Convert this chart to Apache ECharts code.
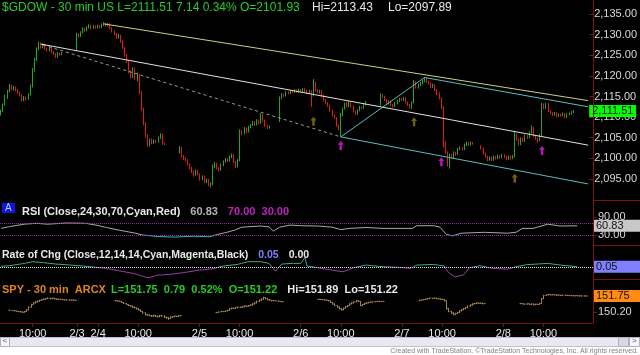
<!DOCTYPE html>
<html>
<head>
<meta charset="utf-8">
<script src="https://cdn.jsdelivr.net/npm/echarts@6/dist/echarts.min.js"></script>
<style>
html, body { margin: 0; padding: 0; background: #000; }
#chart { width: 640px; height: 355px; }
</style>
</head>
<body>
<div id="chart"></div>
<script>
var FONT = 'Arial, "Liberation Sans", sans-serif';

// 30 min bars, one category per bar
var N = 281;
var tickIdx = [15, 36, 46, 65, 94, 113, 142, 161, 190, 209, 238, 257];
var tickText = ['10:00', '2/3', '2/4', '10:00', '2/5', '10:00', '2/6', '10:00', '2/7', '10:00', '2/8', '10:00'];

// $GDOW bars per day: [open, close, low, high], null = no bar
var dayStart = [0, 36, 46, 94, 142, 190, 238];
var feb1 = [
  [2110.8,2111.5,2110.4,2111.8],[2111.5,2113.0,2111.2,2113.3],[2113.0,2115.0,2112.8,2115.4],[2115.0,2116.3,2114.4,2116.6],
  [2116.3,2117.5,2116.0,2118.0],[2117.5,2116.8,2116.5,2117.8],[2116.8,2117.2,2116.4,2117.6],[2117.2,2116.5,2116.2,2117.4],
  [2116.5,2116.0,2115.7,2116.8],[2116.0,2115.3,2115.0,2116.2],[2115.3,2114.2,2113.8,2115.5],[2114.2,2114.8,2113.9,2115.1],
  [2114.8,2114.5,2114.0,2115.0],[2114.5,2115.5,2114.2,2115.8],[2115.5,2117.5,2115.2,2117.9],[2117.5,2121.5,2117.2,2121.9],
  [2121.5,2124.0,2121.0,2124.4],[2124.0,2126.5,2123.6,2126.9],[2126.5,2127.8,2126.2,2128.3],[2127.8,2127.0,2126.6,2128.1],
  [2127.0,2127.6,2126.7,2127.9],[2127.6,2126.6,2126.3,2127.8],[2126.6,2126.2,2125.9,2126.9],[2126.2,2126.9,2125.9,2127.2],
  [2126.9,2125.8,2125.5,2127.0],[2125.8,2125.3,2125.0,2126.0],[2125.3,2124.6,2124.3,2125.5],[2124.6,2125.4,2124.4,2125.7],
  [2125.4,2125.2,2124.9,2125.6],[2125.2,2125.6,2125.0,2125.8],
  null, null, null, null, null, null
];
var feb3 = [
  [2126.3,2130.0,2126.0,2130.4],[2130.0,2129.6,2129.2,2130.3],[2129.6,2130.5,2129.4,2130.8],[2130.5,2131.5,2130.3,2131.8],
  [2131.5,2131.0,2130.7,2131.7],[2131.0,2131.8,2130.8,2132.0],[2131.8,2132.2,2131.5,2132.5],[2132.2,2131.6,2131.3,2132.4],
  [2131.6,2132.0,2131.4,2132.3],[2132.0,2131.7,2131.4,2132.2]
];
var feb4 = [
  [2131.7,2132.1,2131.5,2132.4],[2132.1,2131.8,2131.5,2132.3],[2131.8,2132.4,2131.6,2132.7],[2132.4,2132.6,2132.1,2133.0],
  [2132.6,2132.2,2131.9,2132.9],[2132.2,2132.5,2132.0,2132.8],[2132.5,2131.6,2131.3,2132.7],[2131.6,2130.8,2130.5,2131.8],
  [2130.8,2130.2,2129.8,2131.0],[2130.2,2129.3,2129.0,2130.4],[2129.3,2129.8,2129.0,2130.1],[2129.8,2128.4,2128.0,2130.0],
  [2128.4,2126.8,2126.5,2128.6],[2126.8,2125.0,2124.6,2127.0],[2125.0,2123.5,2123.1,2125.3],[2123.5,2121.0,2120.6,2123.8],
  [2121.0,2119.8,2119.4,2121.3],[2119.8,2121.8,2119.5,2122.1],[2121.8,2119.5,2119.0,2122.0],[2119.5,2120.3,2118.7,2120.8],
  [2120.3,2116.0,2115.6,2120.5],[2116.0,2112.0,2111.5,2116.3],[2112.0,2108.5,2108.0,2112.3],[2108.5,2105.5,2105.0,2108.8],
  [2105.5,2103.2,2102.8,2105.8],[2103.2,2104.5,2102.9,2104.8],[2104.5,2103.8,2103.4,2104.8],[2103.8,2104.3,2103.5,2104.6],
  [2104.3,2104.0,2103.7,2104.5],[2104.0,2105.0,2103.8,2105.3],[2105.0,2105.8,2104.7,2106.1],[2105.8,2103.6,2103.3,2106.0],
  [2103.6,2103.4,2103.2,2103.8],[2103.4,2103.4,2103.4,2103.4],
  null, null, null, null, null,
  [2101.5,2102.6,2101.2,2103.0],[2102.6,2100.5,2100.2,2102.8],[2100.5,2100.0,2099.6,2100.8],[2100.0,2099.5,2099.2,2100.3],
  [2099.5,2098.5,2098.2,2099.8],[2098.5,2097.6,2097.3,2098.8],[2097.6,2096.8,2096.4,2097.9],[2096.8,2096.0,2095.6,2097.0],
  [2096.0,2097.0,2095.8,2097.3]
];
var feb5 = [
  [2097.0,2096.2,2095.9,2097.2],[2096.2,2095.0,2094.6,2096.4],[2095.0,2095.6,2094.7,2095.9],[2095.6,2094.3,2094.0,2095.8],
  [2094.3,2094.8,2094.0,2095.1],[2094.8,2093.6,2093.2,2095.0],[2093.6,2093.9,2093.0,2094.2],[2093.9,2098.0,2093.5,2098.5],
  [2098.0,2098.8,2097.7,2099.1],[2098.8,2097.6,2097.3,2099.0],[2097.6,2097.2,2096.8,2097.9],[2097.2,2098.4,2097.0,2098.7],
  [2098.4,2099.2,2098.1,2099.5],[2099.2,2099.8,2099.0,2100.1],[2099.8,2099.4,2099.1,2100.1],[2099.4,2100.4,2099.2,2100.7],
  [2100.4,2100.8,2100.1,2101.2],[2100.8,2099.2,2098.9,2101.0],[2099.2,2098.0,2097.6,2099.4],[2098.0,2099.5,2097.8,2099.8],
  [2099.5,2106.5,2099.3,2107.0],[2106.5,2106.0,2105.6,2106.9],[2106.0,2107.3,2105.8,2107.6],[2107.3,2106.5,2106.1,2107.5],
  [2106.5,2107.6,2106.3,2107.9],[2107.6,2108.0,2107.3,2108.3],[2108.0,2108.8,2107.8,2109.1],[2108.8,2108.2,2107.9,2109.0],
  [2108.2,2109.2,2108.0,2109.5],[2109.2,2108.6,2108.3,2109.4],[2108.6,2110.5,2108.4,2111.0],[2110.5,2109.2,2108.9,2110.7],
  [2109.2,2108.0,2107.6,2109.4],[2108.0,2107.5,2107.1,2108.2],[2107.5,2107.6,2107.2,2107.9],[2107.6,2107.6,2107.6,2107.6],
  null, null, null,
  [2109.0,2114.6,2108.8,2115.0],[2114.6,2115.5,2114.3,2115.8],[2115.5,2115.2,2114.9,2115.7],[2115.2,2116.0,2115.0,2116.3],
  [2116.0,2115.8,2115.5,2116.2],[2115.8,2116.3,2115.6,2116.6],[2116.3,2116.1,2115.8,2116.5],[2116.1,2116.5,2115.9,2116.8],
  [2116.5,2116.2,2115.9,2116.7]
];
var feb6 = [
  [2116.2,2116.6,2115.9,2116.9],[2116.6,2116.2,2115.9,2116.8],[2116.2,2116.8,2116.0,2117.1],[2116.8,2116.4,2116.1,2117.0],
  [2116.4,2115.9,2115.6,2116.6],[2115.9,2116.3,2115.6,2116.6],[2116.3,2115.2,2112.5,2116.5],[2115.2,2118.4,2115.0,2119.2],
  [2118.4,2116.5,2116.2,2118.6],[2116.5,2116.0,2115.7,2116.8],[2116.0,2116.3,2115.7,2116.6],[2116.3,2115.2,2114.9,2116.5],
  [2115.2,2114.2,2113.9,2115.4],[2114.2,2113.4,2113.1,2114.4],[2113.4,2112.8,2112.5,2113.6],[2112.8,2111.6,2111.3,2113.0],
  [2111.6,2110.4,2110.1,2111.8],[2110.4,2109.8,2109.5,2110.6],[2109.8,2108.0,2107.7,2110.0],[2108.0,2107.3,2106.8,2108.2],
  [2107.3,2110.5,2105.2,2111.0],[2110.5,2112.0,2110.2,2112.3],[2112.0,2113.2,2111.8,2113.5],[2113.2,2112.6,2112.3,2113.6],
  [2112.6,2113.6,2112.4,2113.9],[2113.6,2112.6,2112.3,2113.8],[2112.6,2111.4,2111.1,2112.8],[2111.4,2110.8,2110.5,2111.6],
  [2110.8,2111.6,2110.6,2111.9],[2111.6,2112.4,2111.4,2112.7],[2112.4,2112.2,2111.9,2112.6],[2112.2,2113.0,2112.0,2113.3],
  [2113.0,2113.6,2112.8,2113.9],[2113.6,2113.6,2113.6,2113.6],
  null, null, null, null, null,
  [2113.0,2115.4,2112.8,2115.8],[2115.4,2115.0,2114.7,2115.7],[2115.0,2114.2,2113.9,2115.2],[2114.2,2113.4,2113.1,2114.4],
  [2113.4,2113.8,2113.1,2114.1],[2113.8,2113.0,2112.7,2114.0],[2113.0,2112.6,2112.3,2113.2],[2112.6,2113.4,2112.4,2113.7],
  [2113.4,2113.9,2113.1,2114.2]
];
var feb7 = [
  [2113.9,2114.4,2113.6,2114.7],[2114.4,2114.2,2113.9,2114.6],[2114.2,2114.6,2113.9,2114.9],[2114.6,2113.6,2113.3,2114.8],
  [2113.6,2113.0,2112.7,2113.8],[2113.0,2112.5,2112.1,2113.2],[2112.5,2113.5,2112.0,2113.8],[2113.5,2118.5,2113.3,2119.0],
  [2118.5,2117.2,2116.9,2118.7],[2117.2,2117.8,2116.9,2118.1],[2117.8,2118.2,2117.5,2118.5],[2118.2,2118.8,2117.9,2119.1],
  [2118.8,2119.3,2118.5,2119.7],[2119.3,2118.6,2118.3,2119.5],[2118.6,2118.2,2117.9,2118.8],[2118.2,2117.4,2117.1,2118.4],
  [2117.4,2117.8,2117.1,2118.1],[2117.8,2116.6,2116.3,2118.0],[2116.6,2115.6,2115.3,2116.8],[2115.6,2114.6,2114.3,2116.0],
  [2114.6,2112.4,2112.0,2114.8],[2112.4,2103.0,2102.6,2112.6],[2103.0,2101.5,2101.1,2104.2],[2101.5,2099.4,2098.0,2101.7],
  [2099.4,2100.8,2097.5,2101.1],[2100.8,2100.2,2099.8,2101.0],[2100.2,2101.4,2100.0,2101.7],[2101.4,2101.0,2100.6,2101.6],
  [2101.0,2102.2,2100.8,2102.5],[2102.2,2102.6,2101.9,2102.9],[2102.6,2102.2,2101.9,2102.8],[2102.2,2103.3,2102.0,2103.6],
  [2103.3,2103.8,2103.0,2104.1],[2103.8,2103.3,2103.0,2104.0],[2103.3,2103.8,2103.1,2104.1],[2103.8,2103.6,2103.3,2104.0],
  [2104.0,2104.0,2104.0,2104.0],
  null, null,
  [2103.0,2102.4,2102.1,2103.2],[2102.4,2101.2,2100.9,2102.6],[2101.2,2100.4,2100.1,2101.4],[2100.4,2099.6,2099.3,2100.6],
  [2099.6,2100.2,2099.4,2100.5],[2100.2,2099.6,2099.3,2100.4],[2099.6,2100.4,2099.4,2100.7],[2100.4,2100.0,2099.7,2100.6],
  [2100.0,2100.6,2099.8,2100.9]
];
var feb8 = [
  [2100.6,2100.2,2099.9,2100.8],[2100.2,2100.8,2100.0,2101.1],[2100.8,2100.4,2100.1,2101.0],[2100.4,2099.8,2099.5,2100.6],
  [2099.8,2100.4,2099.6,2100.7],[2100.4,2100.0,2099.7,2100.6],[2100.0,2100.5,2099.8,2100.8],[2100.5,2105.8,2100.2,2106.5],
  [2105.8,2104.6,2104.3,2106.0],[2104.6,2103.4,2103.1,2104.8],[2103.4,2104.8,2103.2,2105.1],[2104.8,2104.2,2103.9,2105.0],
  [2104.2,2105.4,2104.0,2105.7],[2105.4,2105.0,2104.7,2105.6],[2105.0,2106.2,2104.8,2106.5],[2106.2,2107.4,2106.0,2108.0],
  [2107.4,2105.5,2105.2,2107.6],[2105.5,2104.8,2104.5,2105.7],[2104.8,2104.4,2103.8,2105.0],[2104.4,2105.6,2104.2,2105.9],
  [2105.6,2113.0,2105.4,2113.43],[2113.0,2112.2,2111.9,2113.3],[2112.2,2113.2,2112.0,2113.4],[2113.2,2111.5,2111.2,2113.4],
  [2111.5,2111.0,2110.7,2111.7],[2111.0,2110.6,2110.3,2111.2],[2110.6,2111.0,2110.4,2111.3],[2111.0,2110.2,2109.9,2111.2],
  [2110.2,2110.6,2110.0,2110.9],[2110.6,2110.4,2110.1,2110.8],[2110.4,2110.8,2110.2,2111.1],[2110.8,2110.0,2109.7,2111.0],
  [2110.0,2110.6,2109.8,2110.9],[2110.6,2110.8,2110.4,2111.1],[2110.8,2111.2,2110.6,2111.5],[2111.2,2111.51,2111.0,2111.7]
];

// drawn trend lines [[bar, price], [bar, price]]
var lineYellow = [[49, 2132.6], [280, 2114.0]];
var lineWhite = [[19, 2127.7], [280, 2103.2]];
var lineDashed = [[20, 2127.5], [162, 2105.2]];
var lineCyanUp = [[162, 2105.2], [202, 2119.6]];
var lineCyanTop = [[202, 2119.6], [280, 2112.5]];
var lineCyanLow = [[162, 2105.2], [280, 2093.8]];

// signal arrows
var oliveIdx = [149, 197, 245];
var olivePx = [2109.0, 2108.9, 2095.2];
var magIdx = [162, 210, 258];
var magPx = [2103.1, 2099.2, 2101.9];

// RSI(24) samples [bar, value]
var rsiPts = [[0,52],[4,58],[11,66],[17,69],[22,66],[31,70],[40,69],[45,63],[50,55],[56,46],[63,37],[67,30],
  [74,25],[82,23],[91,26],[99,24],[102,31],[107,39],[111,47],[114,56],[123,60],[127,57],[129,43],[132,56],
  [137,63],[142,61],[150,60],[157,56],[161,48],[165,52],[173,55],[181,52],[189,52],[195,52],[197,61],[205,61],
  [208,56],[211,32],[214,27],[218,36],[229,39],[240,36],[244,39],[247,52],[252,52],[259,66],[265,60],[273,60.83]];

// Rate of change samples [bar, value]
var rocPts = [[0,0.1],[4,0.17],[11,0.45],[15,0.67],[20,0.55],[26,0.38],[33,0.25],[39,0.13],[44,0],[50,-0.17],
  [56,-0.46],[63,-0.8],[67,-1.13],[70,-1.33],[74,-1.0],[80,-0.9],[86,-0.7],[94,-0.38],[101,-0.17],[105,0.13],
  [112,0.33],[117,0.67],[123,0.67],[127,0.46],[130,-0.5],[133,0.38],[138,0.46],[142,0.46],[144,1.17],[145,0.13],
  [150,-0.08],[157,-0.38],[162,-0.58],[167,-0.08],[173,0.25],[181,0.04],[189,-0.04],[194,-0.17],[197,0.25],
  [205,0.33],[210,0.13],[212,-0.67],[215,-1.2],[219,-1.0],[222,-0.08],[227,0.17],[233,-0.17],[240,-0.25],
  [244,0.04],[249,0.3],[259,0.46],[265,0.25],[273,0.05]];

// SPY sessions [open, close, low, high]
var spyStart = [4, 54, 102, 150, 198, 246];
var spy1 = [[150.42,150.40,150.37,150.44],[150.40,150.38,150.35,150.42],[150.38,150.35,150.32,150.40],[150.35,150.30,150.27,150.37],
  [150.30,150.28,150.24,150.33],[150.28,150.25,150.20,150.31],[150.25,150.22,150.15,150.28],[150.22,150.30,150.18,150.34],
  [150.30,150.45,150.26,150.50],[150.45,150.70,150.40,150.78],[150.70,150.95,150.65,151.02],[150.95,151.10,150.90,151.15],
  [151.10,151.20,151.05,151.26],[151.20,151.25,151.14,151.32],[151.25,151.35,151.20,151.40],[151.35,151.40,151.30,151.46],
  [151.40,151.45,151.36,151.52],[151.45,151.50,151.40,151.56],[151.50,151.55,151.45,151.62],[151.55,151.50,151.44,151.58],
  [151.50,151.55,151.46,151.60],[151.55,151.48,151.42,151.57],[151.48,151.45,151.40,151.52],[151.45,151.42,151.38,151.50],
  [151.42,151.45,151.38,151.48],[151.45,151.40,151.36,151.48],[151.40,151.38,151.34,151.43],[151.38,151.40,151.35,151.43],
  [151.40,151.36,151.33,151.42],[151.36,151.38,151.34,151.41],[151.38,151.35,151.32,151.40],[151.35,151.36,151.33,151.38]];
var spy2 = [[151.32,151.30,151.27,151.35],[151.30,151.28,151.24,151.33],[151.28,151.25,151.20,151.31],[151.25,151.15,151.10,151.28],
  [151.15,151.05,151.00,151.18],[151.05,150.95,150.90,151.08],[150.95,150.85,150.80,150.98],[150.85,150.80,150.74,150.90],
  [150.80,150.70,150.64,150.84],[150.70,150.65,150.58,150.75],[150.65,150.55,150.48,150.68],[150.55,150.45,150.38,150.60],
  [150.45,150.30,150.24,150.50],[150.30,150.15,150.08,150.34],[150.15,150.00,149.92,150.20],[150.00,149.95,149.88,150.06],
  [149.95,149.90,149.84,150.00],[149.90,149.85,149.78,149.96],[149.85,149.92,149.80,149.98],[149.92,149.85,149.78,149.96],
  [149.85,149.80,149.72,149.90],[149.80,149.90,149.75,149.96],[149.90,149.85,149.78,149.95],[149.85,149.75,149.68,149.90],
  [149.75,149.70,149.60,149.80],[149.70,149.62,149.50,149.76],[149.62,149.75,149.58,149.82],[149.75,149.80,149.70,149.86],
  [149.80,149.85,149.76,149.90],[149.85,149.82,149.78,149.88],[149.82,149.88,149.79,149.92],[149.88,149.90,149.85,149.93]];
var spy3 = [[150.18,150.20,150.14,150.24],[150.20,150.25,150.17,150.28],[150.25,150.30,150.22,150.34],[150.30,150.28,150.24,150.33],
  [150.28,150.35,150.25,150.38],[150.35,150.40,150.31,150.45],[150.40,150.55,150.36,150.60],[150.55,150.60,150.50,150.66],
  [150.60,150.58,150.52,150.65],[150.58,150.65,150.54,150.70],[150.65,150.70,150.60,150.76],[150.70,150.68,150.62,150.75],
  [150.68,150.75,150.64,150.80],[150.75,150.80,150.70,150.86],[150.80,150.78,150.72,150.85],[150.78,150.85,150.74,150.90],
  [150.85,150.90,150.80,150.96],[150.90,151.00,150.86,151.06],[151.00,151.10,150.95,151.16],[151.10,151.25,151.05,151.30],
  [151.25,151.35,151.20,151.42],[151.35,151.45,151.30,151.52],[151.45,151.60,151.40,151.68],[151.60,151.50,151.44,151.64],
  [151.50,151.40,151.35,151.54],[151.40,151.35,151.30,151.44],[151.35,151.30,151.26,151.38],[151.30,151.32,151.27,151.36],
  [151.32,151.28,151.24,151.35],[151.28,151.25,151.22,151.31],[151.25,151.22,151.19,151.28],[151.22,151.20,151.17,151.25]];
var spy4 = [[151.42,151.45,151.39,151.48],[151.45,151.42,151.38,151.48],[151.42,151.40,151.36,151.45],[151.40,151.38,151.34,151.43],
  [151.38,151.35,151.30,151.41],[151.35,151.30,151.25,151.38],[151.30,151.15,151.10,151.33],[151.15,151.00,150.94,151.18],
  [151.00,150.85,150.80,151.04],[150.85,150.70,150.64,150.90],[150.70,150.55,150.48,150.74],[150.55,150.45,150.38,150.60],
  [150.45,150.60,150.40,150.66],[150.60,150.75,150.55,150.80],[150.75,150.85,150.70,150.90],[150.85,151.00,150.80,151.06],
  [151.00,151.10,150.95,151.16],[151.10,151.20,151.05,151.26],[151.20,151.30,151.15,151.36],[151.30,151.25,151.20,151.34],
  [151.25,150.85,150.78,151.28],[150.85,150.95,150.80,151.00],[150.95,151.05,150.90,151.10],[151.05,151.10,151.00,151.15],
  [151.10,151.15,151.06,151.20],[151.15,151.18,151.11,151.22],[151.18,151.20,151.14,151.24],[151.20,151.22,151.17,151.26],
  [151.22,151.25,151.18,151.29],[151.25,151.22,151.18,151.28],[151.22,151.25,151.19,151.28],[151.25,151.24,151.21,151.27]];
var spy5 = [[151.30,151.35,151.27,151.38],[151.35,151.38,151.32,151.42],[151.38,151.42,151.35,151.46],[151.42,151.45,151.38,151.50],
  [151.45,151.50,151.42,151.55],[151.50,151.55,151.46,151.60],[151.55,151.52,151.47,151.58],[151.52,151.55,151.48,151.60],
  [151.55,151.50,151.45,151.58],[151.50,151.48,151.43,151.54],[151.48,151.45,151.40,151.52],[151.45,151.42,151.36,151.49],
  [151.42,151.30,151.24,151.46],[151.30,150.55,150.48,151.34],[150.55,150.30,150.22,150.62],[150.30,150.15,150.06,150.36],
  [150.15,150.00,149.92,150.20],[150.00,150.10,149.95,150.16],[150.10,150.20,150.05,150.26],[150.20,150.35,150.15,150.40],
  [150.35,150.45,150.30,150.52],[150.45,150.55,150.40,150.62],[150.55,150.65,150.50,150.72],[150.65,150.80,150.60,150.86],
  [150.80,150.90,150.75,150.96],[150.90,151.00,150.85,151.06],[151.00,151.05,150.96,151.10],[151.05,151.10,151.00,151.15],
  [151.10,151.05,151.00,151.13],[151.05,151.08,151.01,151.12],[151.08,151.02,150.98,151.11],[151.02,151.05,150.99,151.08]];
var spy6 = [[151.02,151.05,150.98,151.08],[151.05,151.00,150.96,151.08],[151.00,150.98,150.93,151.03],[150.98,151.02,150.94,151.06],
  [151.02,150.95,150.90,151.05],[150.95,151.00,150.92,151.04],[151.00,150.92,150.87,151.03],[150.92,150.98,150.88,151.02],
  [150.98,150.95,150.90,151.01],[150.95,151.05,150.92,151.10],[151.05,151.50,151.00,151.56],[151.50,151.80,151.45,151.86],
  [151.80,151.85,151.76,151.89],[151.85,151.90,151.82,151.94],[151.90,151.85,151.82,151.93],[151.85,151.88,151.82,151.91],
  [151.88,151.85,151.81,151.90],[151.85,151.82,151.79,151.88],[151.82,151.85,151.79,151.88],[151.85,151.80,151.77,151.87],
  [151.80,151.84,151.78,151.87],[151.84,151.80,151.77,151.86],[151.80,151.82,151.78,151.85],[151.82,151.78,151.75,151.84],
  [151.78,151.80,151.75,151.83],[151.80,151.77,151.74,151.82],[151.77,151.80,151.75,151.82],[151.80,151.76,151.73,151.82],
  [151.76,151.78,151.74,151.80],[151.78,151.75,151.72,151.80],[151.75,151.77,151.73,151.79],[151.77,151.75,151.73,151.78]];

var lastGdow = 2111.51, lastRsi = 60.83, lastRoc = 0.05, lastSpy = 151.75;

// ---- build
var categories = [];
var labelAt = {};
for (var i = 0; i < N; i++) categories.push(String(i));
tickIdx.forEach(function (k, j) { labelAt[k] = tickText[j]; });
function hasLabel(idx) { return labelAt[idx] !== undefined; }

var gdowData = [];
[feb1, feb3, feb4, feb5, feb6, feb7, feb8].forEach(function (day, d) {
  day.forEach(function (r, k) {
    if (r) gdowData.push([dayStart[d] + k].concat(r));
  });
});
var spyData = [];
[spy1, spy2, spy3, spy4, spy5, spy6].forEach(function (seg, s) {
  seg.forEach(function (r, k) { spyData.push([spyStart[s] + k].concat(r)); });
});

function comma(v) {
  return v.toLocaleString('en-US', { minimumFractionDigits: 2, maximumFractionDigits: 2 });
}
function valueBox(v, text, bg) {
  return {
    yAxis: v, lineStyle: { color: 'rgba(0,0,0,0)', width: 1 },
    label: { show: true, position: 'end', distance: 0, formatter: text, backgroundColor: bg,
      color: '#101010', fontSize: 11, fontFamily: FONT, padding: [1, 3, 0, 3], width: 41, lineHeight: 11 }
  };
}
function trend(pts, color, type) {
  return [{ coord: pts[0], lineStyle: { color: color, width: 1, type: type || 'solid' } }, { coord: pts[1] }];
}

var RED = '#7d1010';
var grids = [
  { left: 0, right: 47, top: 0, height: 199.6 },
  { left: 0, right: 47, top: 214, height: 30 },
  { left: 0, right: 47, top: 255, height: 25 },
  { left: 0, right: 47, top: 283, height: 40 }
];
var xAxes = grids.map(function (g, gi) {
  var bottom = gi === 3;
  return {
    type: 'category', gridIndex: gi, data: categories, boundaryGap: true,
    axisLine: { show: bottom, lineStyle: { color: RED, width: 1 } },
    axisTick: { show: bottom, alignWithLabel: true, interval: function (idx) { return hasLabel(idx); }, length: 4, lineStyle: { color: RED } },
    axisLabel: { show: bottom, interval: function (idx) { return hasLabel(idx); },
      formatter: function (v, idx) { return labelAt[idx] || ''; },
      color: '#e8e8e8', fontSize: 11, fontFamily: FONT, margin: 5 },
    splitLine: { show: false }
  };
});
var yLabel = { color: '#d8d8d8', fontSize: 11, fontFamily: FONT, margin: 5 };
var yAxes = [
  { gridIndex: 0, position: 'right', min: 2090, max: 2138.39, scale: true,
    axisLine: { show: false }, splitLine: { show: false },
    axisTick: { show: true, length: 4, lineStyle: { color: RED }, customValues: [2095, 2100, 2105, 2110, 2115, 2120, 2125, 2130, 2135] },
    axisLabel: Object.assign({ customValues: [2095, 2100, 2105, 2110, 2115, 2120, 2125, 2130, 2135], formatter: comma }, yLabel) },
  { gridIndex: 1, position: 'right', min: 0, max: 100,
    axisLine: { show: false }, splitLine: { show: false },
    axisTick: { show: true, length: 4, lineStyle: { color: RED }, customValues: [30, 90] },
    axisLabel: Object.assign({ customValues: [30, 90], formatter: function (v) { return v.toFixed(2); } }, yLabel) },
  { gridIndex: 2, position: 'right', min: -1.6, max: 1.5,
    axisLine: { show: false }, splitLine: { show: false }, axisTick: { show: false }, axisLabel: { show: false } },
  { gridIndex: 3, position: 'right', min: 149.2, max: 152.98, scale: true,
    axisLine: { show: false }, splitLine: { show: false },
    axisTick: { show: true, length: 4, lineStyle: { color: RED }, customValues: [150.2] },
    axisLabel: Object.assign({ customValues: [150.2], formatter: function (v) { return v.toFixed(2); } }, yLabel) }
];

var arrowPath = 'path://M5,0 L10,5 L7,5 L7,12 L3,12 L3,5 L0,5 Z';
function head(left, top, text, color, size) {
  return { left: left, top: top, padding: 0, text: text,
    textStyle: { color: color, fontSize: size, fontWeight: 'normal', fontFamily: FONT } };
}

var myChart = echarts.init(document.getElementById('chart'), null, { renderer: 'canvas' });
var option = {
  backgroundColor: '#000',
  animation: false,
  title: [
    head(2, 2, '$GDOW - 30 min US L=2111.51 7.14 0.34% O=2101.93', '#26cc26', 12),
    head(312, 2, 'Hi=2113.43', '#e8e8e8', 12),
    head(388, 2, 'Lo=2097.89', '#e8e8e8', 12),
    { left: 22, top: 203, padding: 0,
      text: '{w|RSI (Close,24,30,70,Cyan,Red)}  {gr|60.83}  {m|70.00  30.00}',
      textStyle: { rich: {
        w: { color: '#e8e8e8', fontSize: 11, fontFamily: FONT },
        gr: { color: '#b0b0b0', fontSize: 11, fontFamily: FONT },
        m: { color: '#c020c0', fontSize: 11, fontFamily: FONT } } } },
    { left: 2, top: 246, padding: 0,
      text: '{w|Rate of Chg (Close,12,14,14,Cyan,Magenta,Black)}  {b|0.05}  {w|0.00}',
      textStyle: { rich: {
        w: { color: '#e8e8e8', fontSize: 10.5, fontFamily: FONT },
        b: { color: '#8080ff', fontSize: 10.5, fontFamily: FONT } } } },
    { left: 2, top: 281, padding: 0,
      text: '{o|SPY - 30 min  ARCX} {g|L=151.75  0.79  0.52%  O=151.22}  {w|Hi=151.89  Lo=151.22}',
      textStyle: { rich: {
        o: { color: '#e0841c', fontSize: 11, fontFamily: FONT },
        g: { color: '#26cc26', fontSize: 11, fontFamily: FONT },
        w: { color: '#e8e8e8', fontSize: 11, fontFamily: FONT } } } }
  ],
  grid: grids,
  xAxis: xAxes,
  yAxis: yAxes,
  visualMap: [
    { type: 'piecewise', show: false, seriesIndex: 3, dimension: 1,
      pieces: [{ lt: 30, color: '#3fb0c8' }, { gte: 30, lte: 70, color: '#a8a8a8' }, { gt: 70, color: '#d0a8b0' }] },
    { type: 'piecewise', show: false, seriesIndex: 4, dimension: 1,
      pieces: [{ lte: 0, color: '#9a3aa8' }, { gt: 0, lte: 50, color: '#3aa898' }],
      outOfRange: { color: '#3aa898' } }
  ],
  series: [
    { name: '$GDOW', type: 'candlestick', xAxisIndex: 0, yAxisIndex: 0, data: gdowData,
      encode: { x: 0, y: [1, 2, 3, 4] }, barWidth: 1,
      itemStyle: { color: '#22a822', color0: '#e01818', borderColor: '#22a822', borderColor0: '#e01818', borderWidth: 1 },
      markLine: { silent: true, symbol: 'none', label: { show: false },
        data: [
          trend(lineDashed, '#9a9a9a', [3, 3]),
          trend(lineWhite, '#e0e0e0'),
          trend(lineYellow, '#cfcf80'),
          trend(lineCyanUp, '#5cbcbc'),
          trend(lineCyanTop, '#5cbcbc'),
          trend(lineCyanLow, '#5cbcbc'),
          valueBox(lastGdow, comma(lastGdow), '#00ff00')
        ] } },
    { name: 'olive', type: 'scatter', xAxisIndex: 0, yAxisIndex: 0, symbol: arrowPath, symbolSize: [6, 9],
      itemStyle: { color: '#8c7c14' },
      data: oliveIdx.map(function (k, j) { return [k, olivePx[j]]; }) },
    { name: 'magenta', type: 'scatter', xAxisIndex: 0, yAxisIndex: 0, symbol: arrowPath, symbolSize: [6, 9],
      itemStyle: { color: '#e020e0' },
      data: magIdx.map(function (k, j) { return [k, magPx[j]]; }) },
    { name: 'RSI', type: 'line', xAxisIndex: 1, yAxisIndex: 1, data: rsiPts, symbol: 'none',
      lineStyle: { width: 1 },
      markLine: { silent: true, symbol: 'none', label: { show: false },
        data: [
          { yAxis: 70, lineStyle: { color: '#a028a0', type: 'dotted', width: 1 } },
          { yAxis: 30, lineStyle: { color: '#a028a0', type: 'dotted', width: 1 } },
          valueBox(lastRsi, lastRsi.toFixed(2), '#c8c8c8')
        ] } },
    { name: 'ROC', type: 'line', xAxisIndex: 2, yAxisIndex: 2, data: rocPts, symbol: 'none',
      lineStyle: { width: 1 },
      markLine: { silent: true, symbol: 'none', label: { show: false },
        data: [
          { yAxis: 0, lineStyle: { color: '#d8d8d8', type: 'dotted', width: 1 } },
          valueBox(lastRoc, lastRoc.toFixed(2), '#8080ff')
        ] } },
    { name: 'SPY', type: 'custom', xAxisIndex: 3, yAxisIndex: 3, data: spyData,
      encode: { x: 0, y: [1, 2, 3, 4] },
      renderItem: function (params, api) {
        var k = api.value(0);
        var po = api.coord([k, api.value(1)]);
        var yc = api.coord([k, api.value(2)])[1];
        var yl = api.coord([k, api.value(3)])[1];
        var yh = api.coord([k, api.value(4)])[1];
        if (yl - yh < 1) yl = yh + 1;
        var x = Math.round(po[0]) + 0.5;
        var st = { stroke: '#a8824e', lineWidth: 1 };
        return { type: 'group', children: [
          { type: 'line', shape: { x1: x, y1: yh, x2: x, y2: yl }, style: st },
          { type: 'line', shape: { x1: x - 1, y1: po[1], x2: x, y2: po[1] }, style: st },
          { type: 'line', shape: { x1: x, y1: yc, x2: x + 1, y2: yc }, style: st }
        ] };
      },
      markLine: { silent: true, symbol: 'none', label: { show: false },
        data: [valueBox(lastSpy, lastSpy.toFixed(2), '#ff8c10')] } }
  ],
  graphic: [
    { type: 'line', shape: { x1: 593.5, y1: 0, x2: 593.5, y2: 323 }, style: { stroke: RED, lineWidth: 1 }, z: 10 },
    { type: 'line', shape: { x1: 593, y1: 200.5, x2: 640, y2: 200.5 }, style: { stroke: RED, lineWidth: 1 }, z: 10 },
    { type: 'line', shape: { x1: 593, y1: 245.5, x2: 640, y2: 245.5 }, style: { stroke: RED, lineWidth: 1 }, z: 10 },
    { type: 'line', shape: { x1: 593, y1: 279.5, x2: 640, y2: 279.5 }, style: { stroke: RED, lineWidth: 1 }, z: 10 },
    { type: 'rect', shape: { x: 2, y: 203, width: 13, height: 10 }, style: { fill: '#1414d8' }, z: 10 },
    { type: 'text', x: 5, y: 203.5, style: { text: 'A', fill: '#b0c8ff', font: '10px ' + FONT }, z: 11 },
    { type: 'rect', shape: { x: 0, y: 337, width: 640, height: 18 }, style: { fill: '#ffffff' }, z: 10 },
    { type: 'rect', shape: { x: 0.5, y: 337.5, width: 639, height: 9 }, style: { fill: '#e8e8f0', stroke: '#c0c0d0' }, z: 11 },
    { type: 'rect', shape: { x: 0.5, y: 337.5, width: 9, height: 9 }, style: { fill: '#f4f4fa', stroke: '#b0b0c0' }, z: 12 },
    { type: 'text', x: 2.5, y: 337, style: { text: '<', fill: '#505060', font: '8px ' + FONT }, z: 13 },
    { type: 'rect', shape: { x: 618.5, y: 337.5, width: 10, height: 9 }, style: { fill: '#d8d8e4', stroke: '#b0b0c0' }, z: 12 },
    { type: 'rect', shape: { x: 629.5, y: 337.5, width: 10, height: 9 }, style: { fill: '#f4f4fa', stroke: '#b0b0c0' }, z: 12 },
    { type: 'text', x: 632, y: 337, style: { text: '>', fill: '#505060', font: '8px ' + FONT }, z: 13 },
    { type: 'text', x: 638, y: 348, style: { text: 'Created with TradeStation. \u00a9TradeStation Technologies, Inc. All rights reserved.',
      fill: '#808080', font: '7px ' + FONT, textAlign: 'right' }, z: 12 }
  ]
};
myChart.setOption(option);
</script>
</body>
</html>
